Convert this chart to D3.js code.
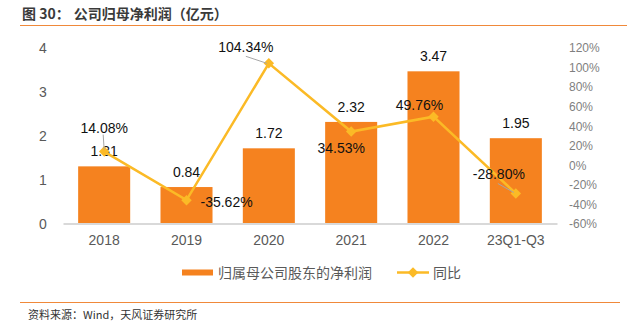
<!DOCTYPE html>
<html><head><meta charset="utf-8">
<script src="https://cdn.jsdelivr.net/npm/d3@7"></script>
<style>
html,body{margin:0;padding:0;background:#fff;}
svg{display:block;font-family:"Liberation Sans",Arial,sans-serif;}
</style></head>
<body>
<svg id="c" width="627" height="328"></svg>
<script>
const categories = ["2018","2019","2020","2021","2022","23Q1-Q3"];
const profit = [1.31, 0.84, 1.72, 2.32, 3.47, 1.95];
const yoy = [14.08, -35.62, 104.34, 34.53, 49.76, -28.80];
const leftTicks = [0,1,2,3,4];
const rightTicks = [-60,-40,-20,0,20,40,60,80,100,120];
const titleParts = ["图 30：", "公司归母净利润（亿元）"];
const source = "资料来源：Wind，天风证券研究所";
const seriesNames = ["归属母公司股东的净利润","同比"];
// label placement (offsets from the point, anchor, leader line)
const pctLabelPlace = [
  {dx:0, dy:-23, anchor:"middle", leader:[[-1,-17],[0,-2]]},
  {dx:14, dy:2, anchor:"start", leader:null},
  {dx:-23, dy:-16, anchor:"middle", leader:[[-23,-7],[-2,0]]},
  {dx:-10, dy:17, anchor:"middle", leader:null},
  {dx:-14, dy:-12, anchor:"middle", leader:null},
  {dx:-17, dy:-19, anchor:"middle", leader:[[-18,-10],[-2,-1]]}
];

const svg = d3.select("#c");
const barColor = "#F5821F", lineColor = "#FBBA26";

// title
const t = svg.append("text").attr("x",22).attr("y",19).attr("font-size",14).attr("font-weight","bold")
  .attr("fill","#3a3a3a").attr("font-family","'Noto Sans CJK SC',sans-serif");
t.append("tspan").text(titleParts[0]);
t.append("tspan").attr("dx",4).text(titleParts[1]);
svg.append("line").attr("x1",20).attr("x2",627).attr("y1",25.5).attr("y2",25.5)
  .attr("stroke","#F0893A").attr("stroke-width",1.2);

const x = d3.scaleBand().domain(categories).range([63,557]).paddingInner(0.368).paddingOuter(0.184);
const yL = d3.scaleLinear().domain([0,4]).range([224,48]);
const yR = d3.scaleLinear().domain([-60,120]).range([224,48]);

// left axis
const gL = svg.append("g").attr("transform","translate(50,0)")
  .call(d3.axisLeft(yL).tickValues(leftTicks).tickSize(0).tickPadding(0).tickFormat(d3.format("d")));
gL.select(".domain").remove();
gL.selectAll("text").attr("font-size",14).attr("fill","#595959").attr("text-anchor","middle").attr("x",-7)
  .attr("font-family","'Liberation Sans',Arial,sans-serif");

// right axis
const gR = svg.append("g").attr("transform","translate(569,0)")
  .call(d3.axisRight(yR).tickValues(rightTicks).tickSize(0).tickPadding(0).tickFormat(d=>d+"%"));
gR.select(".domain").remove();
gR.selectAll("text").attr("font-size",12).attr("fill","#7f7f7f")
  .attr("font-family","'Liberation Sans Narrow','Liberation Sans',Arial,sans-serif");

// bars
svg.append("g").selectAll("rect").data(profit).join("rect")
  .attr("x",(d,i)=>x(categories[i])).attr("width",x.bandwidth())
  .attr("y",d=>yL(d)).attr("height",d=>yL(0)-yL(d)).attr("fill",barColor);

// x axis
const gX = svg.append("g").attr("transform","translate(0,223.5)")
  .call(d3.axisBottom(x).tickSize(0).tickPadding(12));
gX.select(".domain").attr("stroke","#D9D9D9").attr("stroke-width",2);
gX.selectAll("text").attr("font-size",14).attr("fill","#595959")
  .attr("font-family","'Liberation Sans',Arial,sans-serif");

// bar labels
svg.append("g").selectAll("text").data(profit).join("text")
  .attr("x",(d,i)=>x(categories[i])+x.bandwidth()/2).attr("y",d=>yL(d)-15)
  .attr("dy","0.35em").attr("text-anchor","middle").attr("font-size",14).attr("fill","#111")
  .text(d=>d.toFixed(2));

// line
const px = (i)=>x(categories[i])+x.bandwidth()/2;
const line = d3.line().x((d,i)=>px(i)).y(d=>yR(d));
svg.append("path").datum(yoy).attr("d",line).attr("fill","none").attr("stroke",lineColor).attr("stroke-width",2.5);
const diamond = d3.symbol().type(d3.symbolDiamond2).size(70);
svg.append("g").selectAll("path").data(yoy).join("path")
  .attr("transform",(d,i)=>`translate(${px(i)},${yR(d)})`).attr("d",diamond).attr("fill",lineColor);

// leader lines
svg.append("g").selectAll("line").data(yoy.map((d,i)=>({d,i,p:pctLabelPlace[i]})).filter(o=>o.p.leader)).join("line")
  .attr("x1",o=>px(o.i)+o.p.leader[0][0]).attr("y1",o=>yR(o.d)+o.p.leader[0][1])
  .attr("x2",o=>px(o.i)+o.p.leader[1][0]).attr("y2",o=>yR(o.d)+o.p.leader[1][1])
  .attr("stroke","#A6A6A6").attr("stroke-width",1);

// pct labels
svg.append("g").selectAll("text").data(yoy).join("text")
  .attr("x",(d,i)=>px(i)+pctLabelPlace[i].dx).attr("y",(d,i)=>yR(d)+pctLabelPlace[i].dy)
  .attr("dy","0.35em").attr("text-anchor",(d,i)=>pctLabelPlace[i].anchor)
  .attr("font-size",14).attr("fill","#111").text(d=>d.toFixed(2)+"%");

// legend
const lg = svg.append("g").attr("font-family","'Noto Sans CJK SC',sans-serif").attr("font-size",14).attr("fill","#595959");
lg.append("rect").attr("x",182).attr("y",269.5).attr("width",31).attr("height",6).attr("fill",barColor);
lg.append("text").attr("x",218).attr("y",273).attr("dy","0.35em").text(seriesNames[0]);
lg.append("line").attr("x1",397).attr("x2",429).attr("y1",272.5).attr("y2",272.5).attr("stroke",lineColor).attr("stroke-width",2.5);
lg.append("path").attr("transform","translate(413,272.5)").attr("d",diamond).attr("fill",lineColor);
lg.append("text").attr("x",433).attr("y",273).attr("dy","0.35em").text(seriesNames[1]);

// source
svg.append("line").attr("x1",20).attr("x2",620).attr("y1",302.5).attr("y2",302.5)
  .attr("stroke","#F0893A").attr("stroke-width",1.2);
svg.append("text").attr("x",28).attr("y",315).attr("dy","0.35em").attr("font-size",11).attr("fill","#333")
  .attr("font-family","'Noto Sans CJK SC',sans-serif").text(source);
</script>
</body></html>
